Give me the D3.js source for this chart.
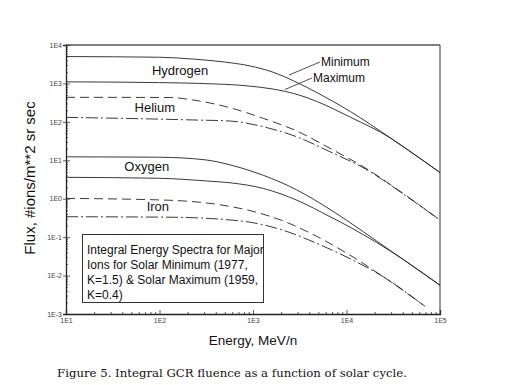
<!DOCTYPE html>
<html><head><meta charset="utf-8">
<script src="https://cdn.jsdelivr.net/npm/d3@7"></script>
<style>body{margin:0;background:#fff}svg{display:block}</style>
</head><body>
<script>
// ---- data (Energy MeV/n, Flux #ions/m^2 sr sec) ----
const hMinE = [10, 100, 230, 500, 930, 1600, 2700, 5100, 11000, 29500, 43600, 100000];
const hMinF = [5000, 4800, 4300, 3600, 2850, 2000, 1175, 537, 186, 38, 19.9, 4.8];
const hMaxE = [10, 100, 270, 930, 1600, 3100, 4800, 11000, 29500, 43600, 100000];
const hMaxF = [1100, 1050, 1000, 850, 720, 500, 340, 132, 38, 19.9, 4.8];
const heMinE = [10, 130, 230, 570, 1290, 2930, 6670, 15100, 47800, 100000];
const heMinF = [435, 430, 370, 233, 123, 58, 20.4, 6.8, 1.02, 0.277];
const heMaxE = [10, 230, 570, 1290, 2930, 6670, 15100, 47800, 100000];
const heMaxF = [131, 112, 105, 74.5, 41, 16.6, 6.4, 1.0, 0.277];
const oMinE = [10, 100, 316, 568, 929, 1288, 2931, 6668, 10890, 21040, 39810, 100000];
const oMinF = [12.3, 12.0, 10.2, 7.6, 5.37, 4.07, 1.70, 0.525, 0.24, 0.079, 0.0269, 0.0056];
const oMaxE = [10, 100, 316, 568, 1288, 2931, 6668, 10890, 21040, 39810, 100000];
const oMaxF = [3.6, 3.4, 2.9, 2.6, 1.85, 0.92, 0.34, 0.182, 0.0724, 0.0269, 0.0056];
const feMinE = [10, 130, 568, 929, 2110, 4800, 10890, 24770, 69200];
const feMinF = [1.02, 0.91, 0.63, 0.49, 0.263, 0.105, 0.034, 0.0093, 0.00158];
const feMaxE = [10, 130, 568, 929, 2110, 4800, 10890, 24770, 69200];
const feMaxF = [0.34, 0.33, 0.28, 0.245, 0.151, 0.069, 0.0275, 0.0093, 0.00158];

const xMajor = [10, 100, 1000, 10000, 100000];
const xMajorLabels = ["1E1", "1E2", "1E3", "1E4", "1E5"];
const yMajor = [0.001, 0.01, 0.1, 1, 10, 100, 1000, 10000];
const yMajorLabels = ["1E-3", "1E-2", "1E-1", "1E0", "1E1", "1E2", "1E3", "1E4"];

const ionLabels = ["Hydrogen", "Helium", "Oxygen", "Iron"];
const ionLabelAt = [[166, 1660], [89, 180], [73, 5.2], [96, 0.475]];
const legendLines = ["Integral Energy Spectra for Major", "Ions for Solar Minimum (1977,", "K=1.5) & Solar Maximum (1959,", "K=0.4)"];
const xTitle = "Energy, MeV/n";
const yTitle = "Flux, #ions/m**2 sr sec";
const caption = "Figure 5. Integral GCR fluence as a function of solar cycle.";

// ---- drawing ----
const W = 509, H = 385;
const FONT = "Liberation Sans, Arial, sans-serif";
const svg = d3.select("body").append("svg").attr("width", W).attr("height", H);
const x = d3.scaleLog().domain([10, 1e5]).range([66, 440]);
const y = d3.scaleLog().domain([1e-3, 1e4]).range([314, 45]);

function minors(dom) {
  const out = [];
  for (let d = dom[0]; d < dom[1]; d *= 10) for (let k = 2; k <= 9; k++) out.push(d * k);
  return out;
}

// frame top / right
svg.append("line").attr("x1", 66).attr("x2", 440).attr("y1", y(1e4)).attr("y2", y(1e4))
  .attr("stroke", "#555").attr("stroke-width", 1.3);
svg.append("line").attr("x1", x(1e5)).attr("x2", x(1e5)).attr("y1", 45).attr("y2", 314)
  .attr("stroke", "#555").attr("stroke-width", 1.2);

// y axis
const gy = svg.append("g").attr("transform", "translate(66,0)");
gy.call(d3.axisLeft(y).tickValues(minors([1e-3, 1e4])).tickSize(-2).tickFormat(""));
gy.call(g => g.select(".domain").remove());
const gy2 = svg.append("g").attr("transform", "translate(66,0)");
gy2.call(d3.axisLeft(y).tickValues(yMajor).tickSize(3).tickPadding(1)
  .tickFormat((d, i) => yMajorLabels[i]));
gy2.selectAll(".tick line").clone().attr("x2", 4);
gy2.selectAll("text").attr("font-size", 7).attr("font-family", FONT).attr("fill", "#444");

// x axis
const gx = svg.append("g").attr("transform", "translate(0,314)");
gx.call(d3.axisBottom(x).tickValues(minors([10, 1e5])).tickSize(-2).tickFormat(""));
gx.call(g => g.select(".domain").remove());
const gx2 = svg.append("g").attr("transform", "translate(0,314)");
gx2.call(d3.axisBottom(x).tickValues(xMajor).tickSize(-4).tickPadding(4)
  .tickFormat((d, i) => xMajorLabels[i]));
gx2.selectAll("text").attr("font-size", 7).attr("font-family", FONT).attr("fill", "#444");
svg.selectAll(".domain").attr("stroke", "#222").attr("stroke-width", 1.3);
svg.selectAll(".tick line").attr("stroke", "#333").attr("stroke-width", 0.8);

// curves
const line = d3.line().x(d => x(d[0])).y(d => y(d[1])).curve(d3.curveMonotoneX);
const series = [
  [hMinE, hMinF, null], [hMaxE, hMaxF, null],
  [heMinE, heMinF, "9,5"], [heMaxE, heMaxF, "12,3,2,3"],
  [oMinE, oMinF, null], [oMaxE, oMaxF, null],
  [feMinE, feMinF, "9,5"], [feMaxE, feMaxF, "12,3,2,3"]
];
series.forEach(([E, F, dash]) => {
  svg.append("path").datum(E.map((e, i) => [e, F[i]]))
    .attr("d", line).attr("fill", "none").attr("stroke", "#222").attr("stroke-width", 0.9)
    .attr("stroke-dasharray", dash);
});

// ion labels
ionLabels.forEach((t, i) => {
  svg.append("text").attr("x", x(ionLabelAt[i][0])).attr("y", y(ionLabelAt[i][1]))
    .attr("text-anchor", "middle").attr("font-family", FONT)
    .attr("font-size", 13).attr("fill", "#111").text(t);
});

// Minimum / Maximum annotations
svg.append("text").attr("x", 321).attr("y", 66).attr("font-family", FONT)
  .attr("font-size", 12).attr("fill", "#111").text("Minimum");
svg.append("text").attr("x", 313).attr("y", 82).attr("font-family", FONT)
  .attr("font-size", 12).attr("fill", "#111").text("Maximum");
svg.append("line").attr("x1", 289).attr("y1", 75).attr("x2", 320).attr("y2", 62).attr("stroke", "#222").attr("stroke-width", 0.8);
svg.append("line").attr("x1", 285).attr("y1", 89.5).attr("x2", 312).attr("y2", 78).attr("stroke", "#222").attr("stroke-width", 0.8);

// legend box
svg.append("rect").attr("x", 82.5).attr("y", 234.5).attr("width", 181).attr("height", 68)
  .attr("fill", "#fff").attr("stroke", "#333").attr("stroke-width", 1);
legendLines.forEach((t, i) => {
  svg.append("text").attr("x", 87).attr("y", 253.5 + i * 15)
    .attr("font-family", FONT).attr("font-size", 12).attr("fill", "#111").text(t);
});

// axis titles
svg.append("text").attr("x", 253).attr("y", 345).attr("text-anchor", "middle")
  .attr("font-family", FONT).attr("font-size", 13.5).attr("fill", "#111").text(xTitle);
svg.append("text").attr("transform", "translate(35,178) rotate(-90)").attr("text-anchor", "middle")
  .attr("font-family", FONT).attr("font-size", 15).attr("fill", "#111").text(yTitle);

// caption
svg.append("text").attr("x", 57).attr("y", 377)
  .attr("font-family", "DejaVu Serif, Liberation Serif, serif").attr("font-size", 11.5)
  .attr("textLength", 350).attr("lengthAdjust", "spacingAndGlyphs")
  .attr("fill", "#111").text(caption);
</script>
</body></html>
